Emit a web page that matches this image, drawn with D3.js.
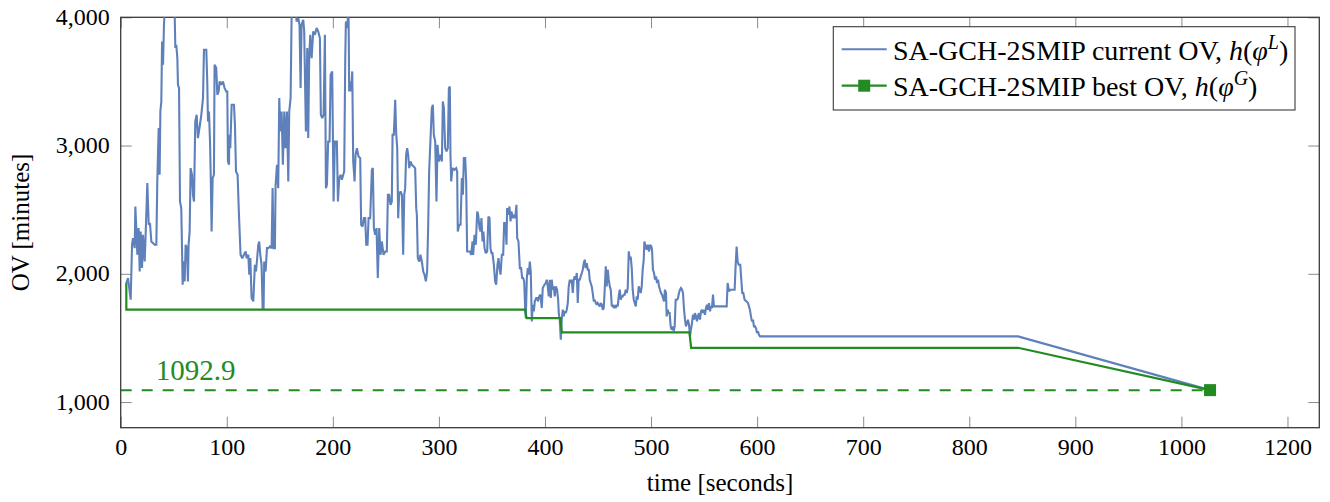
<!DOCTYPE html>
<html>
<head>
<meta charset="utf-8">
<script src="https://cdn.jsdelivr.net/npm/d3@7"></script>
<style>
  html, body { margin: 0; padding: 0; background: #fff; }
  svg { display: block; }
</style>
</head>
<body>
<svg id="chart" width="1330" height="502"></svg>
<script>
// Simulated annealing run: current objective value (OV) over time
const currentTime = [5.3,6.9,9.4,10.7,11.6,13.2,13.8,14.7,15.7,16.9,17.9,18.8,20.1,21.0,22.6,23.5,25.1,26.4,27.6,28.9,32.0,33.6,34.5,35.8,36.7,37.4,38.3,39.0,39.9,40.8,41.7,50.2,50.9,51.5,52.4,53.4,54.0,55.0,55.9,56.5,57.1,57.8,58.4,59.3,60.3,61.2,62.5,63.4,64.0,65.0,65.9,67.2,68.1,69.1,70.3,71.6,72.8,73.8,74.7,76.0,77.6,78.5,80.7,81.6,82.3,83.2,84.2,84.8,85.7,86.7,87.9,88.5,90.1,91.1,92.3,93.3,94.8,96.4,98.0,99.5,100.5,101.1,102.1,102.4,103.3,104.6,106.8,107.7,108.7,110.2,111.5,113.0,114.6,116.2,117.8,118.7,120.3,121.2,122.2,123.4,125.0,126.5,127.5,128.4,129.7,130.6,131.6,132.8,133.8,134.7,135.3,136.6,137.9,139.1,140.7,142.3,143.2,144.1,145.4,146.0,147.3,148.5,149.5,150.4,151.7,152.9,154.2,155.4,156.7,158.0,158.9,160.2,161.1,162.0,164.9,165.8,167.4,168.6,169.6,170.5,172.1,173.0,174.6,175.9,176.8,177.7,178.7,180.0,181.5,183.1,184.7,186.2,187.8,188.7,190.0,191.3,192.5,193.5,194.4,195.6,196.9,197.9,199.4,200.7,201.9,203.8,204.8,206.0,207.3,208.5,209.8,210.7,211.7,212.3,213.2,214.2,214.8,215.4,216.4,217.3,218.3,219.2,220.5,221.4,222.7,224.2,225.8,226.7,228.0,229.3,230.5,231.5,232.7,233.7,235.2,236.8,237.7,238.7,239.9,241.2,242.4,243.7,245.0,246.2,247.8,249.4,250.9,251.9,253.1,254.4,255.6,256.3,257.5,258.8,259.7,260.7,261.6,262.5,263.8,265.1,266.3,267.3,268.2,269.1,270.1,271.0,272.0,273.2,274.5,276.1,277.6,278.6,279.2,280.1,281.4,282.6,283.9,285.2,286.4,287.7,288.9,289.9,290.8,292.1,293.3,294.3,295.2,296.5,297.7,298.7,299.9,301.5,302.8,303.7,304.7,305.9,307.2,308.4,309.4,310.3,310.9,311.6,312.8,314.7,316.3,317.2,317.8,319.1,320.4,321.6,322.6,323.5,324.8,325.7,326.6,327.9,329.2,330.4,331.7,332.3,333.6,334.8,336.1,337.0,338.3,339.2,340.1,341.1,342.0,343.0,344.2,345.5,346.7,347.7,348.6,349.6,350.5,351.8,353.0,354.0,355.2,356.2,357.1,358.1,359.3,360.6,361.5,362.8,363.7,364.3,365.6,366.5,367.5,368.4,369.7,370.9,371.9,373.1,373.8,375.0,376.3,377.5,378.5,379.4,380.4,381.3,381.9,382.9,383.8,384.7,385.7,386.6,387.6,388.5,389.5,390.4,391.7,392.6,393.5,394.5,395.7,397.0,397.9,399.5,400.7,401.7,402.6,403.6,404.5,405.5,406.4,407.3,408.3,409.2,410.2,411.4,412.4,413.0,413.9,414.9,415.8,416.8,417.7,418.6,419.6,420.5,421.5,422.4,423.4,424.3,425.2,426.2,427.1,428.1,429.0,430.0,430.9,431.8,432.8,433.7,434.7,435.6,436.6,437.5,438.4,439.4,440.3,441.3,442.2,443.1,444.1,445.0,446.0,446.9,447.9,448.8,449.7,450.7,451.6,452.6,453.5,454.5,455.4,456.3,457.3,458.2,459.2,460.1,461.1,462.0,463.0,463.9,464.8,465.8,466.7,467.6,468.6,469.5,470.5,471.4,472.4,473.3,474.2,475.2,476.1,477.1,478.0,479.0,479.9,480.8,481.8,482.7,483.7,484.6,485.6,486.5,487.4,488.4,489.3,490.3,491.2,492.1,493.1,493.7,495.0,495.9,496.9,498.1,499.1,500.3,500.9,501.8,502.8,503.7,504.7,505.6,506.6,507.5,508.4,509.4,510.3,511.3,512.2,513.1,514.1,514.7,515.7,516.6,517.5,518.5,519.4,520.4,521.3,522.3,523.2,524.5,525.4,526.3,527.3,528.2,529.2,530.1,531.1,532.0,532.9,533.9,534.8,535.8,536.7,537.6,538.6,539.5,540.5,541.4,542.4,543.3,544.2,545.2,546.1,547.1,548.0,549.0,549.9,550.8,551.8,552.7,553.7,554.6,555.6,556.5,557.4,558.4,559.3,571.3,572.2,573.5,574.7,578.8,579.7,580.7,581.6,582.6,584.1,585.1,586.0,587.0,588.2,589.8,591.4,592.3,593.2,594.2,595.1,596.1,597.0,598.0,598.9,599.9,600.8,601.7,602.7,846,1027];
const currentOV = [1928,1967,1798,2226,2278,2200,2525,2356,2149,2356,2019,2330,2045,2304,2097,2304,2707,2382,2395,2252,2226,2226,2720,3136,2772,3266,3344,3812,3630,3942,4098,4098,4020,3760,3786,3682,3474,3448,2564,2538,2512,2200,1915,2097,1941,2226,2200,1941,2226,2330,2824,2772,2616,2564,3188,3240,3058,3110,3162,3240,3370,3747,3747,3500,3188,3266,3032,2798,2330,2746,2772,3630,3604,3396,3422,3500,3474,3500,3448,3422,3422,2876,2850,3084,2980,3318,3318,3162,2798,2772,2460,2148,2122,2148,2174,2122,2148,1993,2122,1811,1785,2070,2018,2096,2226,2252,2148,2070,1733,1733,2096,2018,2200,2200,2213,2200,2668,2200,2200,2681,2850,2668,3370,3110,3266,2850,3266,2980,3266,2720,3266,3370,3994,4098,4098,3968,3994,3942,3448,3942,3981,3890,3110,3760,3058,3682,3864,3682,3890,3864,3916,3890,3838,3240,3214,3240,3864,2668,2694,3032,3032,3552,3578,2564,3032,3032,2564,2746,2772,2733,2772,2798,3682,3968,3916,3994,4072,3422,3500,3422,3578,2876,2720,2928,2980,2915,2902,2382,2369,2434,2434,2226,2226,2434,2434,2811,2824,2356,2304,2356,1967,2356,2148,2252,2148,2174,2174,2616,2616,2538,2564,3084,3084,3357,3097,2980,2434,2616,2642,2616,2148,2616,2668,2928,2980,2928,2824,2876,2850,2837,2824,2512,2460,2122,2096,2148,2096,2018,1993,1941,2018,2382,2798,3058,3292,3318,3084,3032,2564,3006,2876,2928,2876,3344,3292,2980,2954,2980,3448,3461,2928,2720,2824,2811,2824,2798,2330,2382,2382,2746,2616,2902,2902,2720,2174,2174,2174,2148,2252,2148,2304,2226,2486,2460,2356,2330,2434,2252,2330,2200,2161,2174,2447,2434,2200,2161,2161,2070,1941,1915,2070,2122,2044,1993,2148,2148,2395,2395,2226,2512,2460,2525,2408,2486,2434,2460,2434,2538,2278,2252,2044,2044,1967,1967,1941,1733,1655,1967,2044,1993,2096,2018,1629,1759,1707,1785,1811,1811,1785,1824,1837,1733,1889,1915,1928,1954,1902,1824,1954,1811,1954,1876,1902,1824,1902,1876,1798,1694,1642,1486,1642,1720,1668,1707,1694,1720,1772,1902,1954,1928,1954,1850,1954,1980,1954,2006,1772,1954,1954,1980,2006,2032,2084,2110,2045,2084,2032,2032,1954,1928,1902,1850,1785,1798,1772,1759,1772,1759,1746,1772,1759,1720,1733,1876,2058,1902,2032,1954,1902,1876,1746,1759,1733,1746,1733,1759,1746,1824,1876,1798,1824,1824,1837,1837,1876,1850,1889,2175,2110,2135,2045,1876,1798,1772,1746,1824,1798,1902,1876,1850,1902,2032,2110,2252,2213,2187,2226,2174,2226,2213,2187,2032,2006,1954,1980,1928,1954,1902,1876,1850,1837,1811,1785,1876,1850,1668,1720,1694,1694,1590,1564,1590,1551,1590,1798,1798,1811,1850,1876,1889,1876,1850,1720,1642,1590,1616,1642,1603,1512,1564,1616,1681,1642,1694,1668,1629,1668,1694,1642,1707,1720,1694,1720,1681,1733,1759,1720,1772,1707,1746,1733,1837,1746,1746,1928,1863,1876,1876,2058,2213,2096,2071,2071,1954,1850,1850,1798,1785,1772,1746,1720,1668,1629,1642,1590,1590,1577,1538,1551,1525,1512,1512,1092.9];

// Best objective value found so far
const bestTime = [5.3, 5.3, 381.3, 382.6, 414.5, 415.8, 536.2, 537.8, 846, 1027];
const bestOV   = [1928, 1720, 1720, 1655, 1655, 1543, 1543, 1423, 1423, 1092.9];

const finalBest = 1092.9;

const xTickValues = [0, 100, 200, 300, 400, 500, 600, 700, 800, 900, 1000, 1100];
const xTickLabels = ["0", "100", "200", "300", "400", "500", "600", "700", "800", "900", "1000", "1200"];
const yTickValues = [1000, 2000, 3000, 4000];

const seriesNames = ["SA-GCH-2SMIP current OV, ", "SA-GCH-2SMIP best OV, "];
const seriesSup = ["L", "G"];

const blue = "#5f81bb";
const green = "#228b22";
const serifStack = 'Tinos, "Liberation Serif", "DejaVu Serif", "Noto Serif", "Nimbus Roman", "Nimbus Roman No9 L", FreeSerif, "Times New Roman", Times, Georgia, serif';

const svg = d3.select("#chart").attr("font-family", serifStack);
const plotL = 120.7, plotR = 1319.3, plotT = 17.3, plotB = 427.7;

const x = d3.scaleLinear().domain([0, 1130]).range([plotL, plotR]);
const y = d3.scaleLinear().domain([800, 4000]).range([plotB, plotT]);

svg.append("defs").append("clipPath").attr("id", "plot-clip")
  .append("rect").attr("x", plotL).attr("y", plotT)
  .attr("width", plotR - plotL).attr("height", plotB - plotT);

// Axes with inward ticks on all four sides
const tickLen = 11;
function styleAxis(g) {
  g.attr("font-family", serifStack);
  g.select(".domain").remove();
  g.selectAll(".tick line").attr("stroke", "#8a8a8a").attr("stroke-width", 1);
  g.selectAll(".tick text").attr("fill", "#000").attr("font-size", 24);
}

svg.append("g").attr("transform", `translate(0,${plotB})`)
  .call(d3.axisBottom(x).tickValues(xTickValues)
    .tickFormat((d, i) => xTickLabels[i]).tickSizeInner(-tickLen).tickSizeOuter(0).tickPadding(10))
  .call(styleAxis)
  .call(g => g.selectAll(".tick text").attr("dy", null).attr("y", 27));

svg.append("g").attr("transform", `translate(0,${plotT})`)
  .call(d3.axisTop(x).tickValues(xTickValues).tickFormat("").tickSizeInner(-tickLen).tickSizeOuter(0))
  .call(styleAxis);

svg.append("g").attr("transform", `translate(${plotL},0)`)
  .call(d3.axisLeft(y).tickValues(yTickValues).tickFormat(d3.format(","))
    .tickSizeInner(-tickLen).tickSizeOuter(0).tickPadding(11))
  .call(styleAxis)
  .call(g => g.selectAll(".tick text").attr("dy", null).attr("y", 7));

svg.append("g").attr("transform", `translate(${plotR},0)`)
  .call(d3.axisRight(y).tickValues(yTickValues).tickFormat("").tickSizeInner(-tickLen).tickSizeOuter(0))
  .call(styleAxis);

// Plot frame
svg.append("rect").attr("x", plotL).attr("y", plotT)
  .attr("width", plotR - plotL).attr("height", plotB - plotT)
  .attr("fill", "none").attr("stroke", "#3a3a3a").attr("stroke-width", 1.3);

const plot = svg.append("g").attr("clip-path", "url(#plot-clip)");

// Reference line at the final best value
plot.append("line")
  .attr("x1", x(0)).attr("x2", x(bestTime[bestTime.length - 1]))
  .attr("y1", y(finalBest)).attr("y2", y(finalBest))
  .attr("stroke", green).attr("stroke-width", 2).attr("stroke-dasharray", "11 10");

const line = d3.line().x(d => x(d[0])).y(d => y(d[1]));

plot.append("path")
  .datum(currentTime.map((t, i) => [t, currentOV[i]]))
  .attr("d", line).attr("fill", "none")
  .attr("stroke", blue).attr("stroke-width", 2.1).attr("stroke-linejoin", "miter").attr("stroke-miterlimit", 2);

plot.append("path")
  .datum(bestTime.map((t, i) => [t, bestOV[i]]))
  .attr("d", line).attr("fill", "none")
  .attr("stroke", green).attr("stroke-width", 2.2);

// Marker on the last best point
const lastT = bestTime[bestTime.length - 1], lastV = bestOV[bestOV.length - 1];
svg.append("rect")
  .attr("x", x(lastT) - 6).attr("y", y(lastV) - 6)
  .attr("width", 12).attr("height", 12).attr("fill", green);

// Value label
svg.append("text").attr("x", x(33)).attr("y", 380)
  .attr("fill", green).attr("font-size", 29).text(String(finalBest));

// Axis titles
svg.append("text").attr("x", (plotL + plotR) / 2).attr("y", 491)
  .attr("text-anchor", "middle").attr("font-size", 25).text("time [seconds]");
svg.append("text").attr("transform", `translate(29,${(plotT + plotB) / 2}) rotate(-90)`)
  .attr("text-anchor", "middle").attr("font-size", 25).text("OV [minutes]");

// Legend
const lg = svg.append("g");
lg.append("rect").attr("x", 833.3).attr("y", 26.7).attr("width", 461.7).attr("height", 83.3)
  .attr("fill", "#fff").attr("stroke", "#3a3a3a").attr("stroke-width", 1.1);
const rowsY = [49.3, 85.7];
const colors = [blue, green];
rowsY.forEach((ry, i) => {
  lg.append("line").attr("x1", 841.7).attr("x2", 886.7).attr("y1", ry).attr("y2", ry)
    .attr("stroke", colors[i]).attr("stroke-width", i === 0 ? 2 : 2.2);
  if (i === 1) {
    lg.append("rect").attr("x", 864.2 - 6).attr("y", ry - 6).attr("width", 12).attr("height", 12)
      .attr("fill", green);
  }
  const t = lg.append("text").attr("x", 893).attr("y", ry + 10.5).attr("font-size", 28);
  t.append("tspan").text(seriesNames[i]);
  t.append("tspan").attr("font-style", "italic").text("h");
  t.append("tspan").text("(");
  t.append("tspan").attr("font-style", "italic").text("φ");
  t.append("tspan").attr("font-style", "italic").attr("font-size", 20).attr("dy", -11).text(seriesSup[i]);
  t.append("tspan").attr("dy", 11).text(")");
});
</script>
</body>
</html>
